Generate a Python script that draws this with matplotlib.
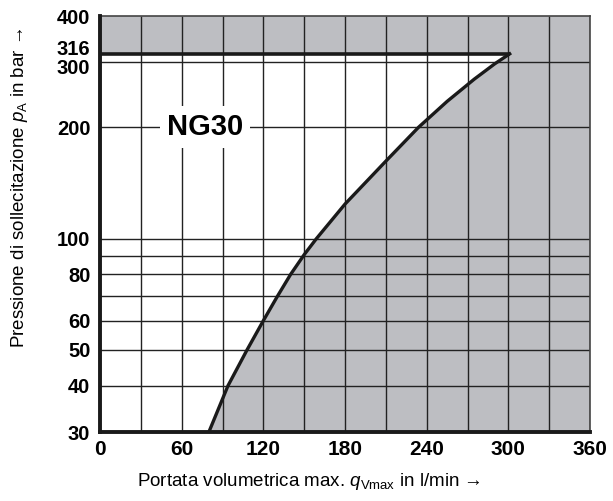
import matplotlib
matplotlib.use("Agg")
import matplotlib.pyplot as plt
from matplotlib.transforms import ScaledTranslation

# boundary curve (flow in l/min, pressure in bar)
flow = [80, 94, 108, 120, 130, 140, 150, 159, 180, 210, 234, 255, 275, 290, 301]
pressure = [30, 40, 50, 60, 69.5, 80, 90.5, 100, 124, 162, 200, 235, 270, 297, 316]

p_max = 316
x_ticks = [0, 60, 120, 180, 240, 300, 360]
x_grid = [0, 30, 60, 90, 120, 150, 180, 210, 240, 270, 300, 330, 360]
y_ticks = [30, 40, 50, 60, 80, 100, 200, 300, 316, 400]
y_grid = [40, 50, 60, 70, 80, 90, 100, 200, 300]

plt.rcParams['font.family'] = ['Liberation Sans', 'DejaVu Sans']
plt.rcParams['mathtext.fontset'] = 'custom'
plt.rcParams['mathtext.it'] = 'Liberation Sans:italic'
plt.rcParams['mathtext.rm'] = 'Liberation Sans'

fig = plt.figure(figsize=(6.13, 5.01), dpi=100)
ax = fig.add_axes([100 / 613, 1 - 432 / 501, 490 / 613, 416 / 501])
ax.set_yscale('log')
ax.set_xlim(0, 360)
ax.set_ylim(30, 400)

gray = '#bdbec2'
# shaded region: above p_max and to the right of the curve
poly_x = flow + [0, 0, 360, 360]
poly_y = pressure + [p_max, 400, 400, 30]
ax.fill(poly_x, poly_y, color=gray, lw=0, zorder=1)

ax.hlines(y_grid, 0, 360, color='#222222', lw=1.0, zorder=2)
ax.vlines(x_grid, 30, 400, color='#222222', lw=1.0, zorder=2)

ax.plot([0, flow[-1]], [p_max, p_max], color='#1a1a1a', lw=2.6,
        solid_capstyle='butt', zorder=4)
ax.plot(flow, pressure, color='#1a1a1a', lw=2.4, zorder=4)

ax.text(77, 200, 'NG30', fontsize=21, fontweight='bold', ha='center',
        va='center', zorder=5,
        bbox=dict(facecolor='white', edgecolor='none', pad=5))

ax.set_xticks(x_ticks)
ax.set_xticklabels([str(v) for v in x_ticks])
ax.set_yticks(y_ticks)
ax.set_yticklabels([str(v) for v in y_ticks])
ax.minorticks_off()
ax.tick_params(axis='y', length=0, labelsize=14.5, pad=7)
ax.tick_params(axis='x', length=0, labelsize=15, pad=6)
for lab in ax.get_xticklabels() + ax.get_yticklabels():
    lab.set_fontweight('bold')

# 316 and 300 sit very close: nudge them apart a little
ylabs = ax.get_yticklabels()
lab316 = ylabs[y_ticks.index(316)]
lab300 = ylabs[y_ticks.index(300)]
lab316.set_transform(lab316.get_transform()
                     + ScaledTranslation(0, 6 / 100, fig.dpi_scale_trans))
lab300.set_transform(lab300.get_transform()
                     + ScaledTranslation(0, -4 / 100, fig.dpi_scale_trans))

for side in ['left', 'bottom']:
    ax.spines[side].set_linewidth(2.8)
    ax.spines[side].set_color('#1a1a1a')
    ax.spines[side].set_zorder(6)
for side in ['top', 'right']:
    ax.spines[side].set_linewidth(1.2)
    ax.spines[side].set_color('#444444')

fig.text(309 / 613, 1 - 482 / 501,
         r'Portata volumetrica max. $q_{\mathrm{Vmax}}$ in l/min →',
         fontsize=13.5, ha='center', va='center')
fig.text(20 / 613, 1 - 188 / 501,
         r'Pressione di sollecitazione $p_{\mathrm{A}}$ in bar →',
         fontsize=13.5, ha='center', va='center', rotation=90)

fig.savefig('out.png', dpi=100)
